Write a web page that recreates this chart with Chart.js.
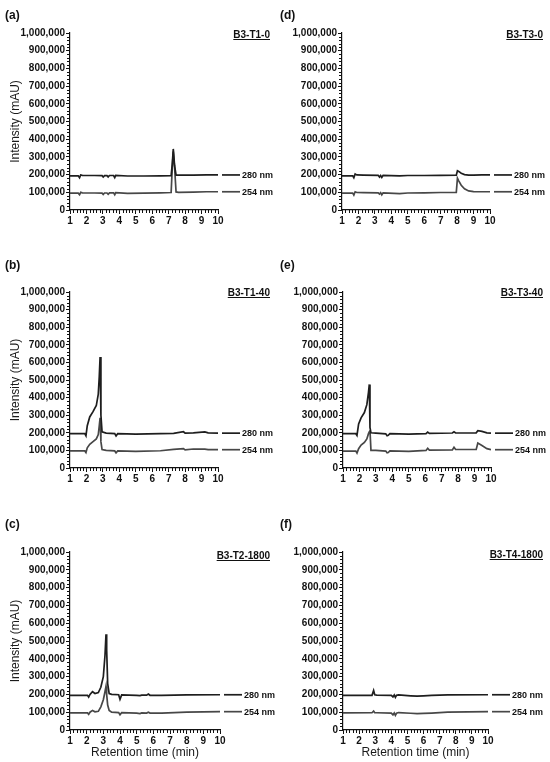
<!DOCTYPE html>
<html>
<head>
<meta charset="utf-8">
<script src="https://cdn.jsdelivr.net/npm/chart.js@4.4.1/dist/chart.umd.min.js"></script>
<style>
  body { margin: 0; background: #fff; font-family: Arial, "Liberation Sans", sans-serif; }
  #page { position: relative; width: 550px; height: 762px; overflow: hidden; }
  .panel { position: absolute; width: 275px; }
  .panel canvas { position: absolute; left: 0; top: 0; }
  .letter { position: absolute; left: 5px; font-weight: bold; font-size: 12px; line-height: 14px; color: #111; }
  .name { position: absolute; font-weight: bold; font-size: 10px; line-height: 12px; color: #111; text-decoration: underline; white-space: nowrap; }
</style>
</head>
<body>
<div id="page"></div>
<script>
// Chromatogram data (retention time in min, intensity in mAU)
const timeA = [1, 1.5, 1.58, 1.65, 1.75, 2.0, 2.5, 2.95, 3.02, 3.1, 3.25, 3.32, 3.4, 3.65, 3.72, 3.78, 4.5, 5.5, 6.5, 7.15, 7.22, 7.28, 7.36, 7.45, 7.6, 8.5, 9.3, 10];
const a280 = [193000, 193000, 182000, 198000, 196000, 195000, 195000, 194000, 186000, 194000, 194000, 187000, 195000, 195000, 183000, 196000, 192000, 192000, 193000, 194000, 260000, 345000, 250000, 197000, 197000, 197000, 198000, 198000];
const a254 = [95000, 95000, 86000, 100000, 97000, 96000, 96000, 95000, 88000, 96000, 96000, 89000, 97000, 97000, 86000, 98000, 94000, 95000, 97000, 99000, 240000, 330000, 240000, 102000, 100000, 101000, 103000, 103000];

const timeB = [1, 1.9, 1.97, 2.05, 2.2, 2.4, 2.6, 2.72, 2.78, 2.83, 2.88, 2.95, 3.2, 3.72, 3.8, 3.9, 5, 6.5, 7.3, 7.9, 8.0, 8.5, 9.2, 9.4, 10];
const b280 = [195000, 195000, 183000, 240000, 290000, 320000, 355000, 420000, 520000, 630000, 300000, 205000, 198000, 195000, 182000, 195000, 193000, 195000, 197000, 206000, 198000, 200000, 205000, 200000, 198000];
const b254 = [97000, 97000, 88000, 115000, 135000, 150000, 165000, 190000, 240000, 285000, 150000, 105000, 100000, 97000, 86000, 97000, 95000, 98000, 106000, 110000, 103000, 108000, 107000, 104000, 104000];

const timeC = [1, 2.05, 2.12, 2.2, 2.35, 2.5, 2.7, 2.85, 3.0, 3.1, 3.16, 3.2, 3.26, 3.35, 3.5, 3.92, 4.0, 4.1, 5.0, 5.2, 5.3, 5.6, 5.7, 5.8, 6.5, 8, 10];
const c280 = [195000, 195000, 185000, 200000, 215000, 205000, 210000, 240000, 300000, 420000, 538000, 450000, 260000, 205000, 200000, 198000, 172000, 197000, 195000, 193000, 196000, 196000, 202000, 195000, 194000, 197000, 198000];
const c254 = [96000, 96000, 88000, 100000, 110000, 102000, 105000, 130000, 170000, 215000, 245000, 200000, 140000, 110000, 100000, 98000, 86000, 97000, 95000, 92000, 96000, 95000, 100000, 95000, 95000, 100000, 103000];

const timeD = [1, 1.65, 1.72, 1.8, 1.9, 2.3, 3.2, 3.28, 3.35, 3.42, 3.5, 4.5, 5.0, 6, 7, 7.95, 8.02, 8.1, 8.25, 8.45, 8.7, 9.0, 9.5, 10];
const d280 = [193000, 193000, 182000, 203000, 198000, 197000, 196000, 186000, 195000, 184000, 196000, 193000, 195000, 195000, 196000, 197000, 222000, 218000, 208000, 200000, 197000, 197000, 198000, 198000];
const d254 = [95000, 95000, 84000, 103000, 99000, 98000, 97000, 90000, 98000, 86000, 97000, 93000, 96000, 97000, 99000, 100000, 180000, 165000, 140000, 120000, 108000, 104000, 103000, 103000];

const timeE = [1, 1.78, 1.85, 1.95, 2.1, 2.3, 2.45, 2.55, 2.6, 2.64, 2.7, 3.0, 3.6, 3.68, 3.75, 3.85, 5, 6.05, 6.15, 6.25, 7.65, 7.75, 7.85, 9.1, 9.2, 9.45, 9.75, 10];
const e280 = [195000, 195000, 185000, 250000, 285000, 315000, 360000, 430000, 475000, 230000, 200000, 198000, 194000, 183000, 186000, 195000, 192000, 195000, 204000, 197000, 199000, 206000, 199000, 200000, 212000, 208000, 200000, 198000];
const e254 = [96000, 96000, 85000, 110000, 130000, 145000, 165000, 195000, 205000, 215000, 100000, 100000, 96000, 86000, 88000, 97000, 94000, 100000, 112000, 102000, 103000, 118000, 105000, 105000, 142000, 128000, 110000, 104000];

const timeF = [1, 2.8, 2.9, 2.97, 3.1, 4.0, 4.1, 4.18, 4.25, 4.32, 4.45, 5.2, 5.6, 6.0, 6.5, 7.5, 10];
const f280 = [195000, 195000, 222000, 198000, 196000, 195000, 186000, 197000, 183000, 195000, 197000, 192000, 190000, 192000, 194000, 197000, 198000];
const f254 = [96000, 97000, 106000, 97000, 97000, 95000, 85000, 96000, 82000, 94000, 98000, 94000, 92000, 93000, 95000, 100000, 103000];

const xTicks = [1, 2, 3, 4, 5, 6, 7, 8, 9, 10];
const yTicks = [0, 100000, 200000, 300000, 400000, 500000, 600000, 700000, 800000, 900000, 1000000];
const seriesNames = ['280 nm', '254 nm'];

// panel placement on the page
const panels = [
  { letter: '(a)', name: 'B3-T1-0',    time: timeA, s280: a280, s254: a254, left: 0,   top: 0,   h: 250, box: { l: 70, t: 33, r: 218, b: 210 }, letterY: 15, nameY: 35, yTitle: true,  xTitle: false },
  { letter: '(b)', name: 'B3-T1-40',   time: timeB, s280: b280, s254: b254, left: 0,   top: 250, h: 260, box: { l: 70, t: 42, r: 218, b: 218 }, letterY: 15, nameY: 43, yTitle: true,  xTitle: false },
  { letter: '(c)', name: 'B3-T2-1800', time: timeC, s280: c280, s254: c254, left: 0,   top: 510, h: 252, box: { l: 70, t: 42, r: 220, b: 220 }, letterY: 14, nameY: 46, yTitle: true,  xTitle: true },
  { letter: '(d)', name: 'B3-T3-0',    time: timeD, s280: d280, s254: d254, left: 275, top: 0,   h: 250, box: { l: 67, t: 33, r: 215, b: 210 }, letterY: 15, nameY: 35, yTitle: false, xTitle: false },
  { letter: '(e)', name: 'B3-T3-40',   time: timeE, s280: e280, s254: e254, left: 275, top: 250, h: 260, box: { l: 68, t: 42, r: 216, b: 218 }, letterY: 15, nameY: 43, yTitle: false, xTitle: false },
  { letter: '(f)', name: 'B3-T4-1800', time: timeF, s280: f280, s254: f254, left: 275, top: 510, h: 252, box: { l: 68, t: 42, r: 213, b: 220 }, letterY: 14, nameY: 45, yTitle: false, xTitle: true }
];

const INK = '#111';
const FONT = 'Arial, "Liberation Sans", sans-serif';

// minor axis ticks + wavelength labels at the right end of each trace
const extrasPlugin = {
  id: 'extras',
  afterDraw(chart) {
    const { ctx, chartArea, scales } = chart;
    const x = scales.x, y = scales.y;
    ctx.save();
    ctx.strokeStyle = INK;
    ctx.lineWidth = 1;
    ctx.beginPath();
    for (let i = 0; i <= 50; i++) {
      if (i % 5 === 0) continue;
      const py = Math.round(y.getPixelForValue(i * 20000)) + 0.5;
      ctx.moveTo(chartArea.left - 3, py);
      ctx.lineTo(chartArea.left, py);
    }
    for (let i = 5; i <= 50; i++) {
      if (i % 5 === 0) continue;
      const px = Math.round(x.getPixelForValue(i / 5)) + 0.5;
      ctx.moveTo(px, chartArea.bottom);
      ctx.lineTo(px, chartArea.bottom + 3);
    }
    ctx.stroke();

    ctx.font = 'bold 9px ' + FONT;
    ctx.textBaseline = 'middle';
    ctx.fillStyle = INK;
    chart.data.datasets.forEach(ds => {
      const last = ds.data[ds.data.length - 1];
      const py = y.getPixelForValue(last.y);
      ctx.strokeStyle = ds.borderColor;
      ctx.lineWidth = ds.borderWidth;
      ctx.beginPath();
      ctx.moveTo(chartArea.right + 4, py);
      ctx.lineTo(chartArea.right + 22, py);
      ctx.stroke();
      ctx.fillText(ds.label, chartArea.right + 24, py + 0.5);
    });
    ctx.restore();
  }
};

function toPoints(time, values) {
  return time.map((t, i) => ({ x: t, y: values[i] }));
}

function makePanel(p) {
  const W = 275, box = p.box;
  const page = document.getElementById('page');
  const wrap = document.createElement('div');
  wrap.className = 'panel';
  wrap.style.left = p.left + 'px';
  wrap.style.top = p.top + 'px';
  wrap.style.height = p.h + 'px';
  const canvas = document.createElement('canvas');
  canvas.width = W;
  canvas.height = p.h;
  canvas.style.width = W + 'px';
  canvas.style.height = p.h + 'px';
  wrap.appendChild(canvas);

  const letter = document.createElement('div');
  letter.className = 'letter';
  letter.style.top = (p.letterY - 7) + 'px';
  letter.textContent = p.letter;
  wrap.appendChild(letter);

  const name = document.createElement('div');
  name.className = 'name';
  name.style.top = (p.nameY - 6) + 'px';
  name.style.right = (p.left === 0 ? 5 : 7) + 'px';
  name.textContent = p.name;
  wrap.appendChild(name);
  page.appendChild(wrap);

  new Chart(canvas, {
    type: 'line',
    data: {
      datasets: [{
        label: seriesNames[0],
        data: toPoints(p.time, p.s280),
        borderColor: '#1e1e1e',
        borderWidth: 1.7,
        pointRadius: 0,
        tension: 0
      }, {
        label: seriesNames[1],
        data: toPoints(p.time, p.s254),
        borderColor: '#474747',
        borderWidth: 1.7,
        pointRadius: 0,
        tension: 0
      }]
    },
    options: {
      responsive: false,
      animation: false,
      events: [],
      layout: { padding: { left: 0, top: box.t, right: W - box.r, bottom: 0 } },
      plugins: { legend: { display: false }, tooltip: { enabled: false } },
      scales: {
        x: {
          type: 'linear',
          min: 1,
          max: 10,
          afterBuildTicks: scale => { scale.ticks = xTicks.map(v => ({ value: v })); },
          afterFit: scale => { scale.height = p.h - box.b; },
          border: { display: true, color: INK, width: 1.2 },
          grid: { drawOnChartArea: false, drawTicks: true, tickLength: 4, color: INK },
          ticks: { autoSkip: false, maxRotation: 0, padding: 1, color: INK, font: { family: FONT, size: 10, weight: 'bold' } },
          title: {
            display: p.xTitle,
            text: 'Retention time (min)',
            color: '#1a1a1a',
            font: { family: FONT, size: 12 },
            padding: { top: 0, bottom: 2 }
          }
        },
        y: {
          min: 0,
          max: 1000000,
          afterBuildTicks: scale => { scale.ticks = yTicks.map(v => ({ value: v })); },
          afterFit: scale => { scale.width = box.l; },
          border: { display: true, color: INK, width: 1.2 },
          grid: { drawOnChartArea: false, drawTicks: true, tickLength: 4, color: INK },
          ticks: {
            autoSkip: false,
            padding: 1,
            color: INK,
            font: { family: FONT, size: 10, weight: 'bold' },
            callback: v => v.toLocaleString('en-US')
          },
          title: {
            display: p.yTitle,
            text: 'Intensity (mAU)',
            color: '#1a1a1a',
            font: { family: FONT, size: 12 },
            padding: { top: 8, bottom: 0 }
          }
        }
      }
    },
    plugins: [extrasPlugin]
  });
}

panels.forEach(p => makePanel(p));
</script>
</body>
</html>
